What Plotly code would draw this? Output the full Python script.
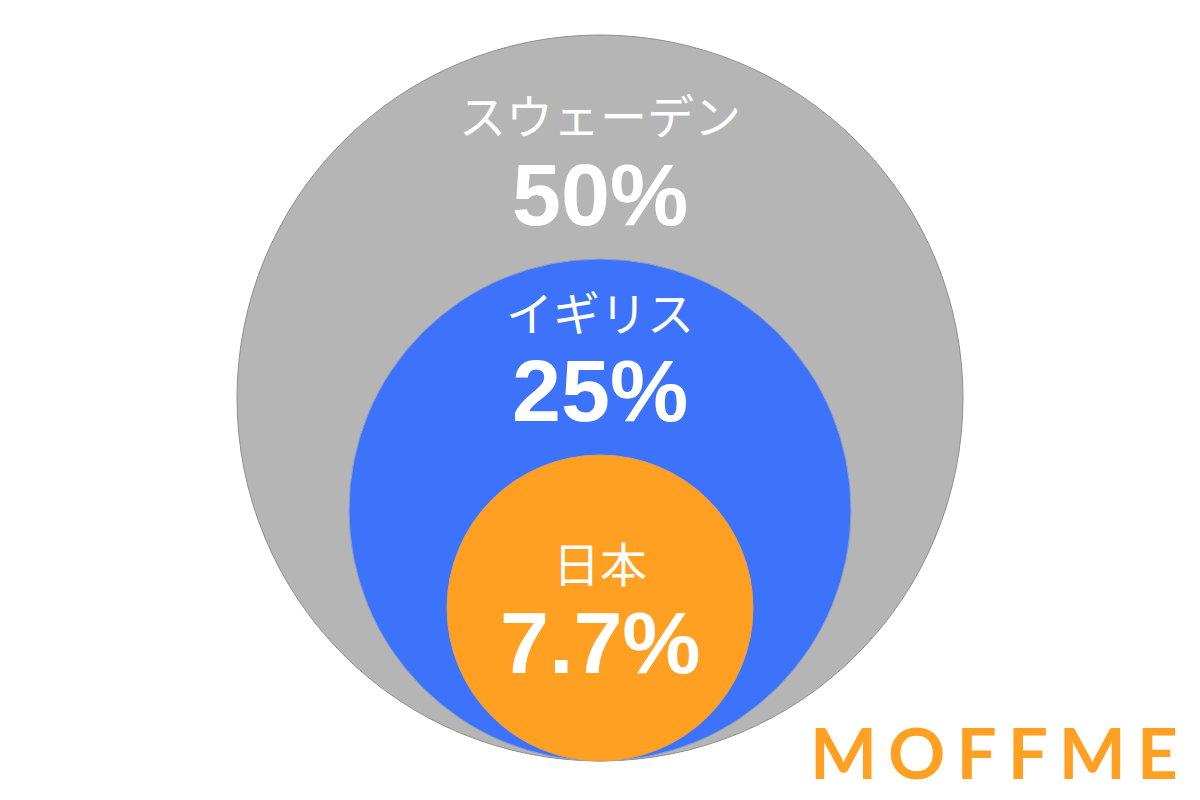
"""
nested_circles.py
Nested share circles (Sweden / UK / Japan) with MOFFME mark
"""

import plotly.graph_objects as go


# =====================================================================
# DATA
# =====================================================================
countries = ["スウェーデン", "イギリス", "日本"]
shares = [50, 25, 7.7]
share_labels = ["50%", "25%", "7.7%"]
# circle radii (axis units = px)
radii = [363, 251, 153]

# =====================================================================
# LAYOUT CONSTANTS
# =====================================================================
W, H = 1200, 800
CX = 600            # common centre line
BASE_Y = 761        # all circles touch at the bottom
NAME_Y = [113, 310, 561]
SHARE_Y = [194, 390, 642]
COLORS = ["#B5B5B5", "#3D73FA", "#FFA022"]
OUTLINE = ["#8F8F8F", "#8F9FC8", "#E0A050"]

fig = go.Figure()

# invisible trace so the axes exist
fig.add_trace(go.Scatter(x=[0, W], y=[0, H], mode="markers",
                         marker=dict(opacity=0), hoverinfo="skip",
                         showlegend=False))

# ----------------------------------------------------------
# CIRCLES (largest first)
# ----------------------------------------------------------
for r, fill, line in zip(radii, COLORS, OUTLINE):
    fig.add_shape(
        type="circle", xref="x", yref="y",
        x0=CX - r, x1=CX + r,
        y0=BASE_Y - 2 * r, y1=BASE_Y,
        fillcolor=fill,
        line=dict(color=line, width=1),
        layer="below",
    )

# ----------------------------------------------------------
# LABELS
# ----------------------------------------------------------
for name, lab, ny, sy in zip(countries, share_labels, NAME_Y, SHARE_Y):
    fig.add_annotation(
        x=CX, y=ny, text=name, showarrow=False,
        font=dict(family="Noto Sans CJK JP", size=47, color="white"),
        xanchor="center", yanchor="middle",
    )
    fig.add_annotation(
        x=CX, y=sy, text=f"<b>{lab}</b>", showarrow=False,
        font=dict(family="Liberation Sans", size=88, color="white"),
        xanchor="center", yanchor="middle",
    )

# logo
fig.add_annotation(
    x=999, y=751,
    text="<span style='letter-spacing:11px'>MOFFME</span>",
    showarrow=False,
    font=dict(family="Lato", size=71, color="#FFA022", weight="bold"),
    xanchor="center", yanchor="middle",
)

fig.update_layout(
    width=W, height=H,
    margin=dict(l=0, r=0, t=0, b=0),
    paper_bgcolor="white",
    plot_bgcolor="white",
    showlegend=False,
    xaxis=dict(range=[0, W], visible=False, fixedrange=True),
    yaxis=dict(range=[H, 0], visible=False, fixedrange=True),
)

fig.write_html("out.html", config={"displayModeBar": False},
               post_script="document.body.style.margin='0';")
